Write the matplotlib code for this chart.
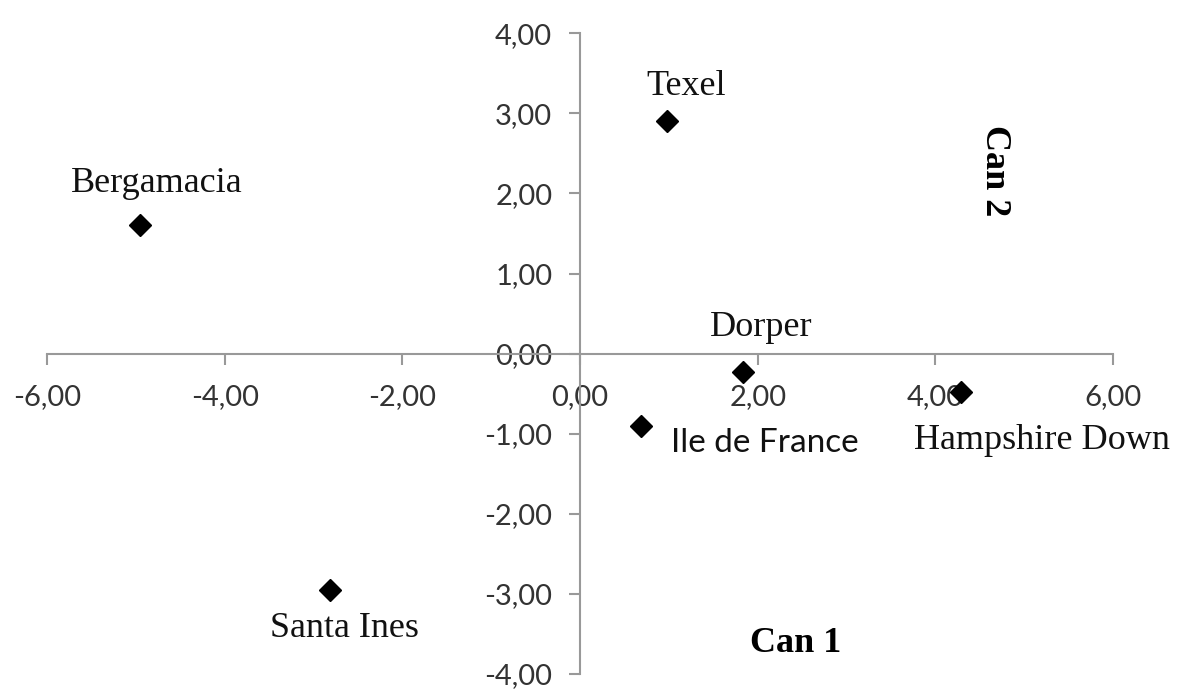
import matplotlib
matplotlib.use("Agg")
import matplotlib.pyplot as plt
from matplotlib.ticker import FuncFormatter

# canonical scores
breeds = ['Texel', 'Bergamacia', 'Dorper', 'Hampshire Down', 'Ile de France', 'Santa Ines']
can1 = [0.98, -4.95, 1.84, 4.29, 0.69, -2.81]
can2 = [2.90, 1.61, -0.23, -0.48, -0.91, -2.95]

# label offsets from each point, in points
offsets = [(14, 25), (12, 30), (13, 32), (58, -35), (89, -12), (10, -28)]
label_font = ['Liberation Serif', 'Liberation Serif', 'Liberation Serif',
              'Liberation Serif', 'Lato', 'Liberation Serif']
label_size = [26, 26, 26, 26, 24, 26]

fig = plt.figure(figsize=(11.79, 6.94), dpi=100)
ax = fig.add_axes([0.04, 0.029, 0.904, 0.923])

ax.plot(can1, can2, 'D', color='black', markersize=11, linestyle='none')

for name, x, y, off, fam, fs in zip(breeds, can1, can2, offsets, label_font, label_size):
    ax.annotate(name, (x, y), xytext=off, textcoords='offset points',
                ha='center', va='center', fontsize=fs, family=fam, color='#111111')

ax.set_xlim(-6, 6)
ax.set_ylim(-4, 4)
ax.set_xticks([-6, -4, -2, 0, 2, 4, 6])
ax.set_yticks([-4, -3, -2, -1, 0, 1, 2, 3, 4])

fmt = FuncFormatter(lambda v, p: ('%.2f' % v).replace('.', ','))
ax.xaxis.set_major_formatter(fmt)
ax.yaxis.set_major_formatter(fmt)

ax.spines['left'].set_position(('data', 0))
ax.spines['bottom'].set_position(('data', 0))
ax.spines['right'].set_visible(False)
ax.spines['top'].set_visible(False)
for s in ['left', 'bottom']:
    ax.spines[s].set_color('#999999')
    ax.spines[s].set_linewidth(1.5)

ax.tick_params(axis='both', direction='out', length=8, width=1.5, color='#999999',
               labelsize=21, labelcolor='#333333')
ax.tick_params(axis='x', pad=14)
ax.tick_params(axis='y', pad=12)
for lab in ax.get_xticklabels() + ax.get_yticklabels():
    lab.set_family('Lato')

ax.text(0.702, 0.048, 'Can 1', transform=ax.transAxes, fontsize=26, fontweight='bold',
        family='Liberation Serif', ha='center', va='center')
ax.text(0.889, 0.786, 'Can 2', transform=ax.transAxes, fontsize=26, fontweight='bold',
        family='Liberation Serif', ha='center', va='center', rotation=270)

fig.savefig('out.png', dpi=100)
